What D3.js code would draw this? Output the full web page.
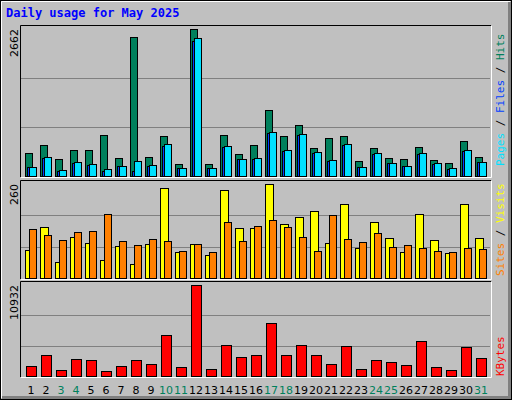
<!DOCTYPE html>
<html><head><meta charset="utf-8">
<script src="https://cdn.jsdelivr.net/npm/d3@7"></script>
<style>body{margin:0;background:#fff}</style>
</head><body>
<div id="chart"></div>
<script>
const days = d3.range(1, 32);
const weekend = [3, 4, 10, 11, 17, 18, 24, 25, 31];
const hits = [422,566,313,476,476,747,331,2518,349,729,223,2662,223,747,404,566,1199,729,928,512,693,729,277,512,331,313,530,295,241,638,349];
const files = [160,330,96,240,205,96,180,96,190,550,140,2445,140,520,300,315,770,455,750,420,280,560,160,400,230,175,400,225,135,460,245];
const pages = [169,349,114,259,223,133,187,277,205,584,151,2500,151,548,313,331,801,476,765,440,295,584,169,422,241,187,422,241,151,476,259];
const sites = [77,142,43,114,97,49,88,38,94,249,71,94,63,243,139,139,260,150,170,184,97,204,83,156,111,71,178,105,69,206,111];
const visits = [136,119,105,128,130,176,102,91,108,102,74,94,71,156,102,145,161,142,114,74,173,108,99,125,85,91,83,74,71,83,80];
const kbytes = [1237,2554,758,2075,1955,638,1237,1955,1476,4948,1117,10932,878,3751,2314,2554,6384,2554,3751,2554,1476,3631,878,1955,1716,1357,4229,1117,758,3511,2194];

const W = 512, H = 400;
const svg = d3.select("#chart").append("svg").attr("width", W).attr("height", H)
  .style("font-family", "DejaVu Sans Mono, monospace");

// outer frame with bevel
svg.append("rect").attr("x", 0).attr("y", 0).attr("width", W).attr("height", H).attr("fill", "#c0c0c0");
svg.append("rect").attr("x", 0.5).attr("y", 0.5).attr("width", W - 1).attr("height", H - 1).attr("fill", "none").attr("stroke", "#000");
svg.append("path").attr("d", `M1.5,${H - 2}V1.5H${W - 2}`).attr("fill", "none").attr("stroke", "#fff");
svg.append("path").attr("d", `M2,${H - 2.5}H${W - 2.5}V2`).attr("fill", "none").attr("stroke", "#808080").attr("stroke-width", 3);

svg.append("text").attr("x", 6).attr("y", 17).attr("fill", "#0000ff").attr("font-weight", "bold")
  .attr("font-size", 12).text("Daily usage for May 2025");

const x = d3.scaleBand().domain(days).range([20, 491]).paddingInner(0).paddingOuter(0);
const slot0 = d => 25 + (d - 1) * 15;

function panel(top, bottom, max, maxLabel) {
  const y = d3.scaleLinear().domain([0, max]).range([bottom - 1, top + 4]);
  const g = svg.append("g");
  g.append("path").attr("d", `M20.5,${bottom}V${top + 0.5}H491`).attr("fill", "none").attr("stroke", "#000");
  g.append("path").attr("d", `M21,${bottom + 0.5}H491.5V${top + 1}`).attr("fill", "none").attr("stroke", "#fff");
  [1 / 3, 2 / 3].forEach(f => g.append("line").attr("x1", 21).attr("x2", 490)
    .attr("y1", Math.round(y(max * f)) + 0.5).attr("y2", Math.round(y(max * f)) + 0.5).attr("stroke", "#808080"));
  g.append("text").attr("transform", `translate(18,${top + 4}) rotate(-90)`).attr("text-anchor", "end")
    .attr("font-family", "DejaVu Sans, sans-serif").attr("font-size", 11).text(maxLabel);
  return y;
}

function bars(y, data, dx, w, color) {
  svg.append("g").selectAll("rect").data(data).join("rect")
    .attr("x", (v, i) => slot0(days[i]) + dx + 0.5).attr("width", w)
    .attr("y", v => Math.round(y(v)) + 0.5).attr("height", v => y(0) - Math.round(y(v)))
    .attr("fill", color).attr("stroke", "#000");
}

const y1 = panel(25, 177, 2662, "2662");
bars(y1, hits, 0, 7, "#00805c");
bars(y1, files, 2, 8, "#0040ff");
bars(y1, pages, 4, 7, "#00e0ff");

const y2 = panel(180, 279, 260, "260");
bars(y2, sites, 0, 8, "#ffff00");
bars(y2, visits, 4, 7, "#ff8000");

const y3 = panel(281, 377, 10932, "10932");
bars(y3, kbytes, 1, 10, "#ff0000");

// day labels
svg.append("g").selectAll("text").data(days).join("text")
  .attr("x", d => slot0(d) + 6).attr("y", 394).attr("text-anchor", "middle")
  .attr("font-family", "DejaVu Sans, sans-serif").attr("font-size", 11)
  .attr("fill", d => weekend.includes(d) ? "#00805c" : "#000").text(d => d);

// right legends
function legend(yBottom, parts) {
  const t = svg.append("text").attr("transform", `translate(504,${yBottom}) rotate(-90)`).attr("font-size", 11);
  parts.forEach(([s, c]) => t.append("tspan").attr("fill", c).text(s));
}
legend(166, [["Pages", "#00e0ff"], [" / ", "#000"], ["Files", "#0040ff"], [" / ", "#000"], ["Hits", "#00805c"]]);
legend(276, [["Sites", "#ff8000"], [" / ", "#000"], ["Visits", "#ffff00"]]);
legend(376, [["KBytes", "#ff0000"]]);
</script>
</body></html>
